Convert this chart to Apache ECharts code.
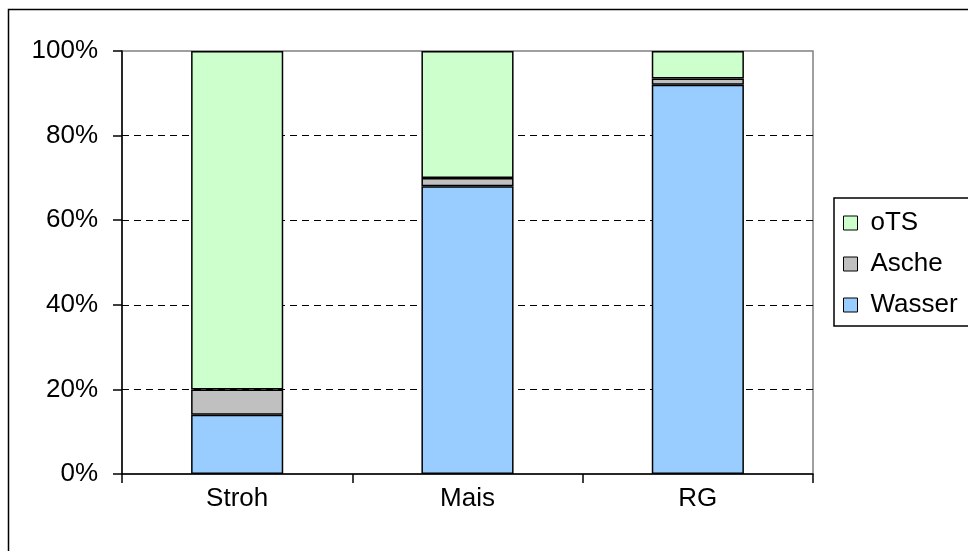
<!DOCTYPE html>
<html>
<head>
<meta charset="utf-8">
<script src="https://cdn.jsdelivr.net/npm/echarts@6/dist/echarts.min.js"></script>
<style>
html,body{margin:0;padding:0;background:#fff;}
#chart{width:968px;height:551px;}
</style>
</head>
<body>
<div id="chart"></div>
<script>
const categories = ['Stroh', 'Mais', 'RG'];
const wasser = [14, 68, 92];
const asche = [6, 2, 1.5];
const ots = [80, 30, 6.5];
const yTicks = [0, 20, 40, 60, 80, 100];

const FONT = '"Liberation Sans", Arial, sans-serif';
const chart = echarts.init(document.getElementById('chart'), null, {renderer: 'canvas'});
const barBorder = {borderColor: '#000', borderWidth: 1.5};

chart.setOption({
  animation: false,
  backgroundColor: '#fff',
  textStyle: {fontFamily: FONT},
  graphic: [{
    type: 'rect',
    shape: {x: 8.5, y: 9.5, width: 1000, height: 600},
    style: {fill: 'none', stroke: '#000', lineWidth: 1.5},
    z: 100
  }],
  grid: {
    left: 122, right: 155, top: 51, bottom: 77,
    show: true, borderColor: '#808080', borderWidth: 1.5, backgroundColor: 'transparent'
  },
  legend: {
    orient: 'vertical',
    left: 834, top: 198,
    padding: [11, 40, 7, 9],
    itemGap: 13,
    itemWidth: 14, itemHeight: 14,
    icon: 'rect',
    borderColor: '#000', borderWidth: 1.5,
    data: ['oTS', 'Asche', 'Wasser'],
    itemStyle: {borderColor: '#000', borderWidth: 1},
    textStyle: {fontFamily: FONT, fontSize: 26, color: '#000', lineHeight: 28, padding: [0, 0, 0, 8]}
  },
  xAxis: {
    type: 'category',
    data: categories,
    boundaryGap: true,
    axisLine: {lineStyle: {color: '#000', width: 1.5}},
    axisTick: {show: true, length: 9, alignWithLabel: false, lineStyle: {color: '#000', width: 1.5}},
    axisLabel: {fontFamily: FONT, fontSize: 26, color: '#000', margin: 12}
  },
  yAxis: {
    type: 'value',
    min: yTicks[0], max: yTicks[yTicks.length - 1], interval: 20,
    axisLine: {show: true, lineStyle: {color: '#000', width: 1.5}},
    axisTick: {show: true, length: 9, lineStyle: {color: '#000', width: 1.5}},
    axisLabel: {fontFamily: FONT, fontSize: 26, color: '#000', margin: 24, formatter: '{value}%'},
    splitLine: {show: true, showMinLine: false, showMaxLine: false, lineStyle: {color: '#000', type: [7, 5], width: 1}}
  },
  series: [
    {name: 'Wasser', type: 'bar', stack: 'a', data: wasser, barWidth: '40%',
     itemStyle: Object.assign({color: '#99CCFF'}, barBorder)},
    {name: 'Asche', type: 'bar', stack: 'a', data: asche, barWidth: '40%',
     itemStyle: Object.assign({color: '#C0C0C0'}, barBorder)},
    {name: 'oTS', type: 'bar', stack: 'a', data: ots, barWidth: '40%',
     itemStyle: Object.assign({color: '#CCFFCC'}, barBorder)}
  ]
});
</script>
</body>
</html>
